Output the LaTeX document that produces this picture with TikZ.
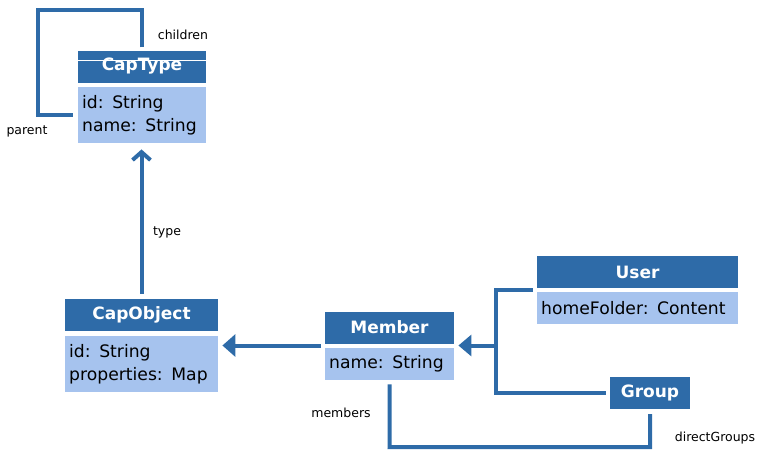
\documentclass[tikz,border=0pt]{standalone}
\usepackage{fontspec}
\setmainfont{DejaVu Sans}
\usetikzlibrary{positioning,arrows.meta}
\definecolor{umldark}{HTML}{2E6BA8}
\definecolor{umllight}{HTML}{A6C3EE}

\begin{document}
\begin{tikzpicture}[x=1pt,y=-1pt,
    head/.style={fill=umldark,text=white,font=\fontsize{17}{20}\selectfont\bfseries,inner sep=0pt,minimum height=32pt},
    attrs/.style={fill=umllight,font=\fontsize{17.2}{23}\selectfont,inner xsep=4pt,inner ysep=0pt,align=left,anchor=north west},
    conn/.style={draw=umldark,line width=4pt},
    lbl/.style={font=\fontsize{12.5}{14}\selectfont}]
    \useasboundingbox (0,0) rectangle (757,451);
    % classes
    \node[head,minimum width=128pt] (captype) at (142,66.5) {CapType};
    \draw[white,line width=1pt] ([yshift=-10pt]captype.north west) -- ([yshift=-10pt]captype.north east);
    \node[attrs,text width=120pt,minimum height=56pt] (captypeattr) at (78,87) {id: String\\name: String};
    \node[head,minimum width=153pt] (capobj) at (141.5,315) {CapObject};
    \node[attrs,text width=145pt,minimum height=56pt] (capobjattr) at (65,336) {id: String\\properties: Map};
    \node[head,minimum width=129pt] (member) at (389.5,327.5) {Member};
    \node[attrs,text width=121pt,minimum height=32pt] (memberattr) at (325,348) {name: String};
    \node[head,minimum width=201pt] (user) at (637.5,272) {User};
    \node[attrs,text width=193pt,minimum height=32pt] (userattr) at (537,292) {homeFolder: Content};
    \node[head,minimum width=80pt] (group) at (650,393) {Group};
    % connectors
    \coordinate (looptop) at (38,10);
    \draw[conn,shorten <=3pt,shorten >=5pt] (captype.north) |- (looptop) |- (captypeattr.west);
    \node[lbl] (children) at (183,35) {children};
    \node[lbl] (parent) at (27,131) {parent};
    \draw[conn,-{Straight Barb[length=8pt,width=18pt]},shorten <=5pt,shorten >=6pt] (capobj.north) -- (capobj.north |- captypeattr.south);
    \node[lbl] (type) at (167,232) {type};
    \draw[conn,-{Triangle[length=13pt,width=22pt]},shorten <=4pt,shorten >=4pt] ([yshift=2.5pt]memberattr.north west) -- ([yshift=2.5pt]memberattr.north west -| capobjattr.east);
    \coordinate (gen) at (496,345.5);
    \draw[conn] ([xshift=-4pt,yshift=2pt]userattr.north west) -| (gen) |- ([xshift=-4pt]group.west);
    \draw[conn,-{Triangle[length=13pt,width=21pt]},shorten >=4pt] (gen) -- (gen -| memberattr.east);
    \coordinate (assoc) at (389.5,447);
    \draw[conn,shorten <=4pt] (memberattr.south) -- (assoc) -| ([yshift=-5pt]group.south);
    \node[lbl] (members) at (341,413) {members};
    \node[lbl] (directgroups) at (715,438) {directGroups};
\end{tikzpicture}
\end{document}
